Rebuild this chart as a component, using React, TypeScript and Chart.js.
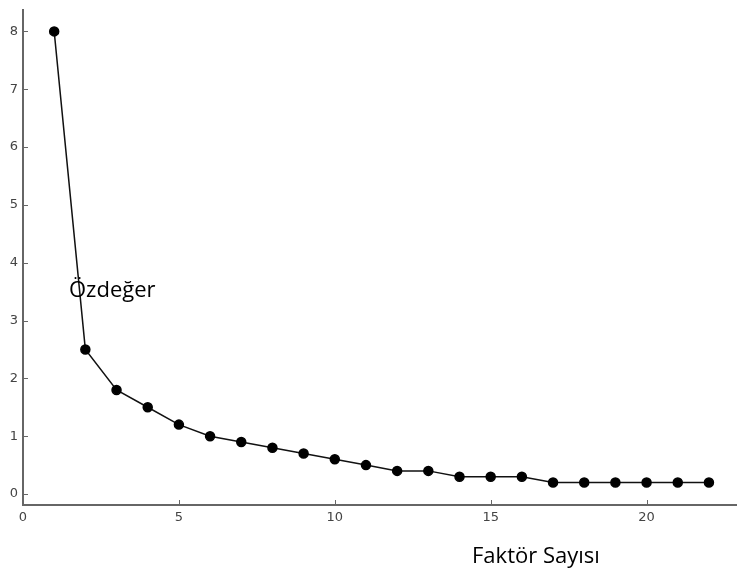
import React, { useEffect, useRef } from "react";
import { Chart, registerables } from "chart.js";

Chart.register(...registerables);

const factorNumbers = [1, 2, 3, 4, 5, 6, 7, 8, 9, 10, 11, 12, 13, 14, 15, 16, 17, 18, 19, 20, 21, 22];
const eigenValues = [8, 2.5, 1.8, 1.5, 1.2, 1.0, 0.9, 0.8, 0.7, 0.6, 0.5, 0.4, 0.4, 0.3, 0.3, 0.3, 0.2, 0.2, 0.2, 0.2, 0.2, 0.2];
const xTickValues = [0, 5, 10, 15, 20];
const yTickValues = [0, 1, 2, 3, 4, 5, 6, 7, 8];
const yTitle = "Özdeğer";
const xTitle = "Faktör Sayısı";

const inwardTicks = {
  id: "inwardTicks",
  afterDraw(chart: any) {
    const ctx = chart.ctx;
    const xs = chart.scales.x;
    const ys = chart.scales.y;
    const area = chart.chartArea;
    ctx.save();
    ctx.strokeStyle = "#666";
    ctx.lineWidth = 1;
    xTickValues.forEach((v) => {
      const px = Math.round(xs.getPixelForValue(v)) + 0.5;
      ctx.beginPath();
      ctx.moveTo(px, area.bottom);
      ctx.lineTo(px, area.bottom - 5);
      ctx.stroke();
    });
    yTickValues.forEach((v) => {
      const py = Math.round(ys.getPixelForValue(v)) + 0.5;
      ctx.beginPath();
      ctx.moveTo(area.left, py);
      ctx.lineTo(area.left + 5, py);
      ctx.stroke();
    });
    ctx.fillStyle = "#000";
    ctx.font = '22px "Open Sans"';
    ctx.textBaseline = "alphabetic";
    ctx.textAlign = "left";
    ctx.fillText(yTitle, 69, 297);
    ctx.fillText(xTitle, 472, 563);
    ctx.restore();
  },
};

export default function App() {
  const ref = useRef<HTMLCanvasElement>(null);
  useEffect(() => {
    document.body.style.margin = "0";
    const chart = new Chart(ref.current!, {
      type: "line",
      data: {
        datasets: [
          {
            data: factorNumbers.map((x, i) => ({ x, y: eigenValues[i] })),
            borderColor: "#111",
            borderWidth: 1.5,
            backgroundColor: "#000",
            pointBackgroundColor: "#000",
            pointBorderColor: "#000",
            pointRadius: 4.5,
            tension: 0,
            clip: false,
          },
        ],
      },
      options: {
        animation: false,
        responsive: false,
        maintainAspectRatio: false,
        layout: { autoPadding: false, padding: { top: 10, right: 0, left: 0, bottom: 0 } },
        plugins: { legend: { display: false }, tooltip: { enabled: false } },
        scales: {
          x: {
            type: "linear",
            min: 0,
            max: 22.9,
            afterBuildTicks: (s: any) => {
              s.ticks = xTickValues.map((v) => ({ value: v }));
            },
            afterFit: (s: any) => {
              s.height = 67;
              s.paddingRight = 0;
              s.paddingLeft = 0;
            },
            grid: { display: false, drawTicks: false },
            border: { display: true, color: "#666", width: 2 },
            ticks: {
              color: "#444",
              font: { family: "DejaVu Sans", size: 13 },
              padding: 5,
              maxRotation: 0,
            },
          },
          y: {
            type: "linear",
            min: -0.19,
            max: 8.37,
            afterBuildTicks: (s: any) => {
              s.ticks = yTickValues.map((v) => ({ value: v }));
            },
            afterFit: (s: any) => {
              s.width = 23;
              s.paddingTop = 0;
              s.paddingBottom = 0;
            },
            grid: { display: false, drawTicks: false },
            border: { display: true, color: "#666", width: 2 },
            ticks: {
              color: "#444",
              font: { family: "DejaVu Sans", size: 13 },
              padding: 5,
            },
          },
        },
      },
      plugins: [inwardTicks],
    });
    return () => chart.destroy();
  }, []);
  return (
    <div style={{ width: 737, height: 572, background: "#fff" }}>
      <canvas ref={ref} width={737} height={572} style={{ display: "block" }} />
    </div>
  );
}
